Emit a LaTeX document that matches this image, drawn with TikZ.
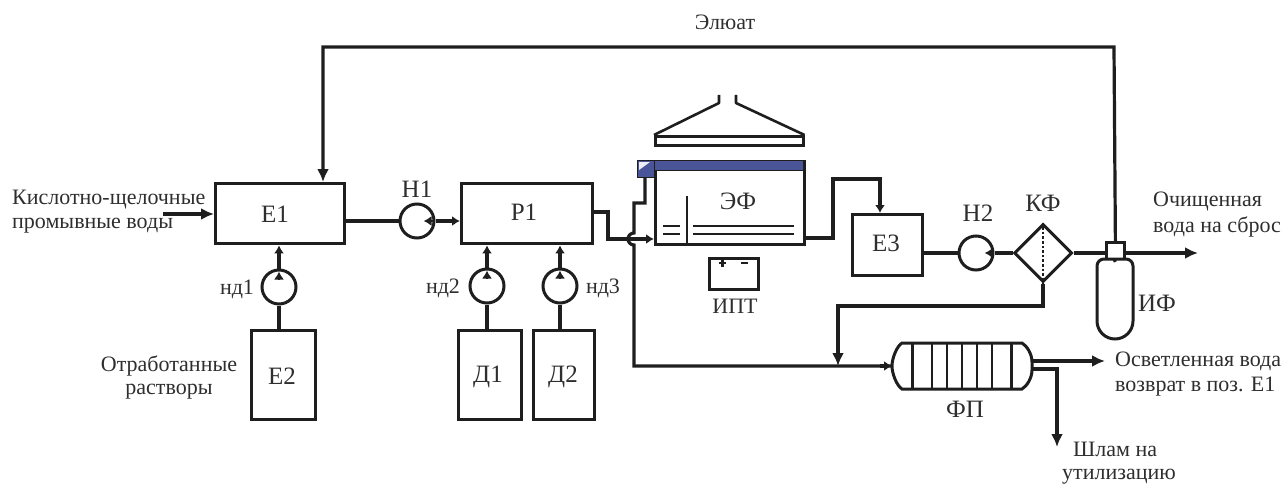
\documentclass[tikz,border=0pt]{standalone}
\usepackage{fontspec}
\setmainfont{Liberation Serif}
\usetikzlibrary{arrows.meta,shapes.geometric}
\definecolor{ink}{HTML}{1E1E1E}
\definecolor{lab}{HTML}{2E2E2E}
\definecolor{band}{HTML}{4A5599}
\tikzset{
  unit/.style={draw=ink,line width=3.4pt,minimum width=0pt,minimum height=0pt,inner sep=0pt,anchor=north west},
  pump/.style={draw=ink,line width=3pt,circle,minimum size=34pt,inner sep=0pt},
  lbl/.style={text=lab,font=\fontsize{22}{24}\selectfont,inner sep=0pt},
  big/.style={lbl,font=\fontsize{25}{26}\selectfont},
  lbll/.style={lbl,anchor=west},
  pipe/.style={draw=ink,line width=3.2pt},
  thin/.style={draw=ink,line width=2.6pt,line join=round},
  flow/.style={pipe,-{Latex[length=13pt,width=12pt]}},
  tip/.style={pipe,-{Latex[length=8pt,width=10pt]}},
  mini/.style={draw=ink,line width=2pt,-{Latex[length=8pt,width=10pt]}},
}
\begin{document}
\begin{tikzpicture}[x=1pt,y=-1pt]
\useasboundingbox (0,0) rectangle (1286,487);
% units
\node[unit,minimum width=129pt,minimum height=60pt] (E1) at (214,182) {};
\node[unit,minimum width=131pt,minimum height=60pt] (P1) at (460,182) {};
\node[unit,minimum width=64pt,minimum height=89pt] (E2) at (250,329) {};
\node[unit,minimum width=63pt,minimum height=89pt] (D1) at (457,329) {};
\node[unit,minimum width=61pt,minimum height=89pt] (D2) at (532,329) {};
\node[unit,minimum width=70pt,minimum height=61pt] (E3) at (851,213) {};
\node[unit,minimum width=149pt,minimum height=83pt] (EF) at (654,160) {};
\node[unit,line width=2.6pt,minimum width=148pt,minimum height=9pt] (hood) at (654,135) {};
\node[unit,line width=2.8pt,minimum width=49pt,minimum height=31pt] (IPT) at (708,257) {};
\node[unit,line width=2.8pt,minimum width=18pt,minimum height=18pt] (sq) at (1105,241) {};
% pumps
\node[pump] (N1) at (417,221) {};
\node[pump] (N2) at (976,253) {};
\node[pump] (ND1) at (279,287) {};
\node[pump] (ND2) at (487,286) {};
\node[pump] (ND3) at (560,286) {};
% cartridge filter
\node[draw=ink,line width=3pt,diamond,aspect=1,minimum size=58pt,inner sep=0pt] (KF) at (1043,253) {};
\draw[ink,line width=2.6pt,dotted] (KF.north) -- (KF.south);
% blue band and inlet box of EF
\node[unit,draw=ink,line width=1.4pt,fill=band,minimum width=149pt,minimum height=10pt] (bandr) at (654,160) {};
\node[unit,draw=ink,line width=1.4pt,fill=band,minimum width=17pt,minimum height=17pt] (inbox) at (637,160) {};
\fill[white!90!band] (639,162) -- (650,162) -- (639,170) -- cycle;
% EF interior
\coordinate (w1) at (687,196); \coordinate (w2) at (687,243);
\draw[thin] (w1) -- (w2);
\draw[thin] (663,226) -- (680,226) (663,234) -- (680,234)
      (693,226) -- (794,226) (693,234) -- (794,234);
% hood
\draw[thin] (hood.north west) -- (719,103) -- (719,95);
\draw[thin] (hood.north east) -- (736,103) -- (736,95);
% battery
\draw[thin] (719,263) -- (726,263) (722.5,259.5) -- (722.5,266.5) (741,263) -- (748,263);
% ion-exchange filter
\path[draw=ink,line width=3pt,fill=white] (1097,266) arc[start angle=180,end angle=270,radius=7] -- (1126,259) arc[start angle=270,end angle=360,radius=7] -- (1133,321) arc[start angle=0,end angle=180,x radius=18,y radius=18] -- cycle;
\coordinate (IFtop) at (1114,259);
% sludge filter
\path[draw=ink,line width=3pt,fill=white] (902,343) -- (1022,343) .. controls (1027,346) and (1032,354) .. (1032,362) -- (1032,370) .. controls (1032,378) and (1027,386) .. (1022,389) -- (902,389) .. controls (897,386) and (892,374) .. (892,366) .. controls (892,358) and (897,346) .. (902,343) -- cycle;
\foreach \x in {912,1011} \draw[ink,line width=3pt] (\x,343) -- (\x,389);
\foreach \x in {932,947,962,977,992} \draw[thin] (\x,343) -- (\x,389);
\coordinate (FPin) at (892,366);
\coordinate (FPo1) at (1032,361);
\coordinate (FPo2) at (1032,369);
% connectors
\coordinate (a1) at (163,214);
\draw[flow] (a1) -- (E1.west |- a1);
\draw[pipe] (E1.east |- N1) -- (N1.west);
\draw[mini] (N1.east) ++(-3,0) -- ++(-9,0);
\draw[tip] (N1.east) -- (P1.west |- N1);
\draw[pipe] (ND1.south) -- (E2.north -| ND1);
\draw[tip] (ND1.north) -- (E1.south -| ND1);
\draw[mini] (ND1.north) ++(0,11) -- ++(0,-8);
\draw[pipe] (ND2.south) -- (D1.north -| ND2);
\draw[tip] (ND2.north) -- (P1.south -| ND2);
\draw[mini] (ND2.north) ++(0,11) -- ++(0,-8);
\draw[pipe] (ND3.south) -- (D2.north -| ND3);
\draw[tip] (ND3.north) -- (P1.south -| ND3);
\draw[mini] (ND3.north) ++(0,11) -- ++(0,-8);
\draw[tip] (P1.east |- 0,212) -- (608,212) -- (608,239) -- (EF.west |- 0,239);
\draw[pipe] (645,177) -- (645,203) -- (634,203) -- (634,233) arc[start angle=270,end angle=90,radius=6] -- (634,366) -- (FPin);
\draw[tip] (FPin) ++(-12,0) -- (FPin);
\draw[tip] (EF.east |- 0,238) -- (833,238) -- (833,179) -- (880,179) -- (E3.north -| 880,0);
\draw[pipe] (E3.east |- N2) -- (N2.west);
\draw[mini] (N2.east) ++(-1,0) -- ++(-9,0);
\draw[pipe] (N2.east) -- (KF.west);
\draw[pipe] (KF.east) -- (sq.west |- KF);
\draw[flow] (sq.east |- KF) -- (1198,253);
\draw[pipe] (sq.south) -- (IFtop);
\draw[flow] (sq.north) -- (1114,47) -- (323,47) -- (E1.north -| 323,0);
\draw[flow] (KF.south) -- (1043,306) -- (838,306) -- (838,366);
\draw[flow] (FPo1) -- (1105,361);
\draw[flow] (FPo2) -- (1057,369) -- (1057,447);
% labels
\node[lbl] (tE) at (725,22) {Элюат};
\node[lbll] (t1) at (12,200) {Кислотно-щелочные};
\node[lbll] (t2) at (12,226) {промывные воды};
\node[lbl] (t3) at (169,366) {Отработанные};
\node[lbl] (t4) at (169,392) {растворы};
\node[big] (tE1) at (275,214) {Е1};
\node[big] (tP1) at (524,212) {Р1};
\node[big] (tE2) at (282,376) {Е2};
\node[big] (tD1) at (488,377) {Д1};
\node[big] (tD2) at (563,377) {Д2};
\node[big] (tE3) at (886,243) {Е3};
\node[big] (tH1) at (417,189) {Н1};
\node[big] (tH2) at (978,213) {Н2};
\node[big] (tKF) at (1043,203) {КФ};
\node[big] (tEF) at (738,201) {ЭФ};
\node[big] (tFP) at (965,409) {ФП};
\node[big] (tIF) at (1157,303) {ИФ};
\node[lbl] (tn1) at (237,289) {нд1};
\node[lbl] (tn2) at (443,288) {нд2};
\node[lbl] (tn3) at (603,288) {нд3};
\node[lbl] (tIPT) at (735,306) {ИПТ};
\node[lbll] (t5) at (1153,202) {Очищенная};
\node[lbll] (t6) at (1153,227) {вода на сброс};
\node[lbll] (t7) at (1115,361) {Осветленная вода};
\node[lbll] (t8) at (1115,387) {возврат в поз. Е1};
\node[lbll] (t9) at (1073,449) {Шлам на};
\node[lbll] (t10) at (1062,477) {утилизацию};
\end{tikzpicture}
\end{document}
